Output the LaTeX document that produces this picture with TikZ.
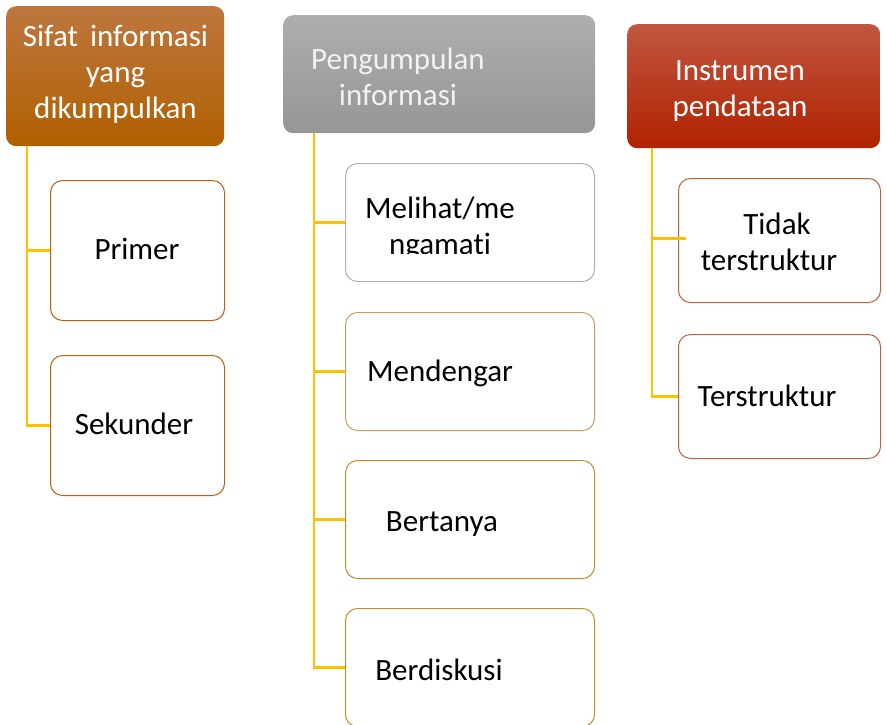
\documentclass[tikz,border=0pt]{standalone}
\usepackage{fontspec}
\setmainfont{Carlito}[Ligatures=CommonOff]
\usepackage{xcolor}
\usetikzlibrary{positioning,calc}
\definecolor{sifattop}{RGB}{190,118,62}
\definecolor{sifatbot}{RGB}{176,96,0}
\definecolor{pengtop}{RGB}{174,174,174}
\definecolor{pengbot}{RGB}{150,150,150}
\definecolor{insttop}{RGB}{193,86,64}
\definecolor{instbot}{RGB}{176,34,0}
\definecolor{brownln}{RGB}{192,96,16}
\definecolor{grayln}{RGB}{176,176,176}
\definecolor{tanln}{RGB}{200,160,90}
\definecolor{goldln}{RGB}{192,144,48}
\definecolor{redln}{RGB}{192,96,64}
\definecolor{trunk}{RGB}{255,192,0}

\begin{document}
\begin{tikzpicture}[x=1pt,y=-1pt,font=\fontsize{31}{36}\selectfont]
\tikzset{head/.style={rounded corners=10pt,anchor=north west,inner sep=0pt},
kid/.style={rounded corners=12pt,anchor=north west,fill=white,line width=1pt,inner sep=0pt},
txt/.style={anchor=base,align=center,inner sep=0pt},
link/.style={draw=trunk,line width=2.2pt}}
\useasboundingbox (0,0) rectangle (886,724);
\node[head,top color=sifattop,bottom color=sifatbot,minimum width=218pt,minimum height=140pt] (sifat) at (6,6) {};
\node[head,top color=pengtop,bottom color=pengbot,minimum width=312pt,minimum height=118pt] (peng) at (283,15) {};
\node[head,top color=insttop,bottom color=instbot,minimum width=253pt,minimum height=124pt] (inst) at (627,24) {};
\node[txt,text=white] (sifatT) at (115.5,118.5) {Sifat\hspace{12pt}informasi\\yang\\dikumpulkan};
\node[txt,text=white!95!black] (pengT) at (398,105) {Pengumpulan\\informasi};
\node[txt,text=white] (instT) at (740,116) {Instrumen\\pendataan};
\node[kid,draw=brownln,minimum width=174pt,minimum height=140pt] (prim) at (50,180) {};
\node[kid,draw=brownln,minimum width=174pt,minimum height=140pt] (sek) at (50,355) {};
\node[kid,draw=grayln,minimum width=249pt,minimum height=118pt] (mel) at (345,163) {};
\node[kid,draw=tanln,minimum width=249pt,minimum height=118pt] (mend) at (345,312) {};
\node[kid,draw=goldln,minimum width=249pt,minimum height=118pt] (bert) at (345,460) {};
\node[kid,draw=goldln,minimum width=249pt,minimum height=118pt] (disk) at (345,608) {};
\node[kid,draw=redln,minimum width=202pt,minimum height=124pt] (tidak) at (678,178) {};
\node[kid,draw=redln,minimum width=202pt,minimum height=124pt] (terst) at (678,334) {};
\node[txt] (primT) at (137,259) {Primer};
\node[txt] (sekT) at (134,434) {Sekunder};
\begin{scope}
\clip (345,163) rectangle (594,253);
\node[txt] (melT) at (440,254) {Melihat/me\\ngamati};
\end{scope}
\node[txt] (mendT) at (440,381.5) {Mendengar};
\node[txt] (bertT) at (442,531) {Bertanya};
\node[txt] (diskT) at (439,680) {Berdiskusi};
\node[txt] (tidakT) at (769,270) {\hspace{16pt}Tidak\\terstruktur};
\node[txt] (terstT) at (767,406.5) {Terstruktur};
\coordinate (t1) at ([xshift=21pt]sifat.south west);
\coordinate (t2) at ([xshift=31pt]peng.south west);
\coordinate (t3) at ([xshift=25pt]inst.south west);
\draw[link] (t1) |- (prim.west);
\draw[link] (t1) |- (sek.west);
\draw[link] (t2) |- (mel.west);
\draw[link] (t2) |- (mend.west);
\draw[link] (t2) |- (bert.west);
\draw[link] (t2) |- (disk.west);
\draw[link] (t3) |- ([xshift=8pt,yshift=2pt]tidak.west);
\draw[link] (t3) |- (terst.west);
\end{tikzpicture}
\end{document}
